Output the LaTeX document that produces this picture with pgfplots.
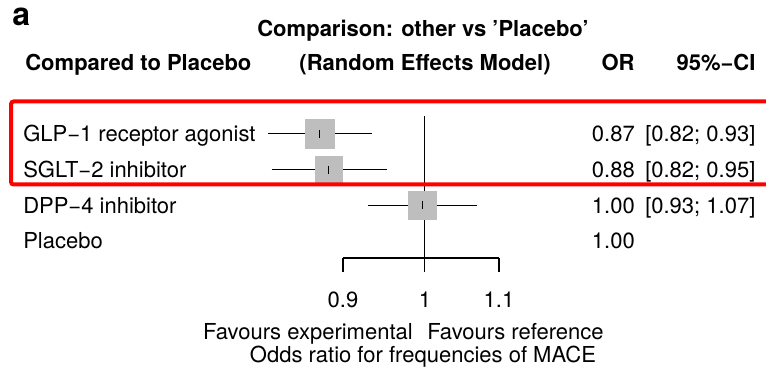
\documentclass[border=0pt]{standalone}
\usepackage{fontspec}
\setmainfont{TeX Gyre Heros}
\usepackage{pgfplots}
\pgfplotsset{compat=1.18}
\definecolor{boxgray}{RGB}{190,190,190}
\begin{document}
\begin{tikzpicture}[font=\fontsize{16.5}{19}\selectfont, t/.style={inner sep=0pt}]
\useasboundingbox (0,0) rectangle (574.5pt,280.5pt);
\begin{axis}[
  at={(257.25pt,87pt)}, anchor=south west,
  scale only axis, width=117pt, height=106.5pt,
  xmode=log, xmin=0.9, xmax=1.1, ymin=0.524, ymax=4.5,
  clip=false,
  axis x line*=bottom, hide y axis,
  x axis line style={-, line width=0.8pt},
  xtick={0.9,1,1.1}, xticklabels={0.9,1,1.1},
  xminorticks=false,
  tick align=outside, major tick length=10.5pt,
  xtick style={black, line width=0.8pt},
  xticklabel style={font=\fontsize{16.5}{19}\selectfont, yshift=-11.5pt},
  /pgf/number format/assume math mode=true,
]
\addplot[black, line width=0.8pt] coordinates {(1,0.524) (1,4.5)};
\addplot[black, line width=0.8pt] coordinates {(0.817,4) (0.934,4)};
\addplot[black, line width=0.8pt] coordinates {(0.821,3) (0.952,3)};
\addplot[black, line width=0.8pt] coordinates {(0.929,2) (1.069,2)};
\addplot[boxgray, only marks, mark=square*, mark size=10.9pt, mark options={fill=boxgray, draw=boxgray, line width=0pt}] coordinates {(0.8736,4)};
\addplot[boxgray, only marks, mark=square*, mark size=10.1pt, mark options={fill=boxgray, draw=boxgray, line width=0pt}] coordinates {(0.8838,3)};
\addplot[boxgray, only marks, mark=square*, mark size=10.5pt, mark options={fill=boxgray, draw=boxgray, line width=0pt}] coordinates {(0.997,2)};
\addplot[black, only marks, mark=|, mark size=3pt, mark options={black, line width=0.9pt}] coordinates {(0.8736,4) (0.8838,3) (0.997,2)};
\end{axis}
\begin{scope}[x=0.75pt,y=0.75pt]
\node[t, anchor=base west, font=\fontsize{24}{26}\selectfont\bfseries] at (12,348) {a};
\node[t, anchor=base] at (423,337) {\bfseries Comparison: other vs ’Placebo’};
\node[t, anchor=base west] at (25,303) {\bfseries Compared to Placebo};
\node[t, anchor=base] at (425,303) {\bfseries (Random Effects Model)};
\node[t, anchor=base] at (618,303) {\bfseries OR};
\node[t, anchor=base] at (716,303) {\bfseries 95\%−CI};
\node[t, anchor=base west] at (23,232) {GLP−1 receptor agonist};
\node[t, anchor=base west] at (23,196.3) {SGLT−2 inhibitor};
\node[t, anchor=base west] at (23,160.7) {DPP−4 inhibitor};
\node[t, anchor=base west] at (23,125.7) {Placebo};
\node[t, anchor=base east] at (635,232) {0.87};
\node[t, anchor=base east] at (635,196.3) {0.88};
\node[t, anchor=base east] at (635,160.7) {1.00};
\node[t, anchor=base east] at (635,125.7) {1.00};
\node[t, anchor=base west] at (645,232) {[0.82; 0.93]};
\node[t, anchor=base west] at (645,196.3) {[0.82; 0.95]};
\node[t, anchor=base west] at (645,160.7) {[0.93; 1.07]};
\node[t, anchor=base east] at (413,34) {Favours experimental};
\node[t, anchor=base west] at (427,34) {Favours reference};
\node[t, anchor=base] at (423,12) {Odds ratio for frequencies of MACE};
\clip (0,0) rectangle (766,374);
\draw[red, line width=3pt, rounded corners=2pt] (11,272.5) rectangle (800,189.5);
\end{scope}
\end{tikzpicture}
\end{document}
